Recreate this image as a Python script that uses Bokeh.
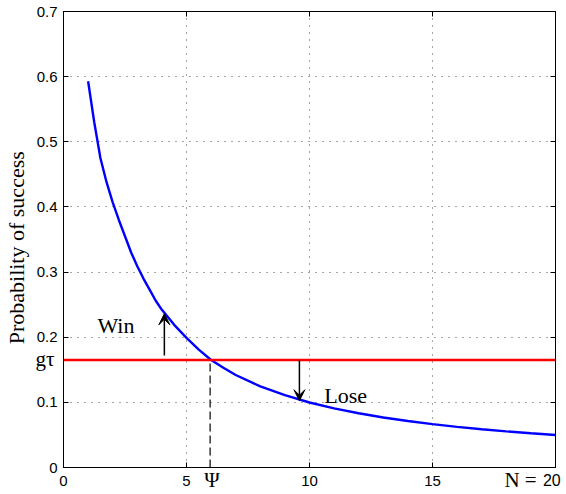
from bokeh.plotting import figure
from bokeh.models import (Range1d, LinearAxis, FixedTicker, Label, Arrow,
                          VeeHead, Span)
from bokeh.embed import file_html
from bokeh.resources import INLINE

# ---- data ----
N = [1, 1.25, 1.5, 1.75, 2, 2.25, 2.5, 2.75, 3, 3.25, 3.5, 3.75, 4, 4.5, 5,
     5.5, 6, 6.5, 7, 8, 9, 10, 11, 12, 13, 14, 15, 16, 17, 18, 19, 20]
P = [0.593, 0.530, 0.475, 0.438, 0.407, 0.380, 0.355, 0.330, 0.309, 0.290,
     0.273, 0.256, 0.242, 0.219, 0.199, 0.181, 0.165, 0.153, 0.142, 0.1245,
     0.111, 0.0998, 0.0907, 0.0832, 0.0768, 0.0713, 0.0666, 0.0624, 0.0588,
     0.0555, 0.0526, 0.0499]

g_tau = 0.165          # threshold
psi = 5.96             # crossing point
win_x, win_y0, win_y1 = 4.1, 0.172, 0.236
lose_x, lose_y0, lose_y1 = 9.59, 0.165, 0.1025

x_min, x_max = 0, 20
y_min, y_max = 0, 0.7
x_ticks = [0, 5, 10, 15, 20]
x_label_pos = [0, 5, 10, 15, 19.85]
x_tick_labels = ["0", "5", "10", "15", "20"]
x_serif_pos = [psi + 0.08, 18.58]
x_serif_labels = ["\u03a8", "N ="]
y_ticks = [0, 0.1, 0.2, 0.3, 0.4, 0.5, 0.6, 0.7]
y_tick_labels = ["0", "0.1", "0.2", "0.3", "0.4", "0.5", "0.6", "0.7"]
y_serif_pos = [g_tau + 0.001]
y_serif_labels = ["g\u03c4"]
y_title = "Probability of success"

SANS = "Liberation Sans"
SERIF = "Liberation Serif"

W, H = 566, 494
BL, BR, BT, BB = 61, 11, 11, 27

p = figure(width=W, height=H, output_backend="svg", toolbar_location=None,
           x_range=Range1d(x_min, x_max), y_range=Range1d(y_min, y_max),
           x_axis_location=None, y_axis_location=None,
           min_border_left=BL, min_border_right=BR, min_border_top=BT,
           min_border_bottom=BB)
p.outline_line_color = "black"
p.outline_line_width = 1
p.background_fill_color = "white"
p.border_fill_color = "white"


def tick_axis(ticks):
    """axis that draws only inward tick marks"""
    ax = LinearAxis(ticker=FixedTicker(ticks=ticks))
    ax.major_tick_in = 5
    ax.major_tick_out = 0
    ax.minor_tick_in = 0
    ax.minor_tick_out = 0
    ax.axis_line_color = "black"
    ax.major_tick_line_color = "black"
    ax.major_label_text_font_size = "1px"
    ax.major_label_text_color = None
    ax.major_label_standoff = 0
    return ax


def label_axis(pos, labels, font, size, standoff):
    """axis that draws only labels"""
    ax = LinearAxis(ticker=FixedTicker(ticks=pos),
                    major_label_overrides={t: l for t, l in zip(pos, labels)})
    ax.major_tick_in = 0
    ax.major_tick_out = 0
    ax.minor_tick_in = 0
    ax.minor_tick_out = 0
    ax.axis_line_color = None
    ax.major_tick_line_color = None
    ax.minor_tick_line_color = None
    ax.major_label_text_font = font
    ax.major_label_text_font_size = size
    ax.major_label_text_color = "black"
    ax.major_label_standoff = standoff
    return ax


# bottom: tick marks, sans labels, serif labels (pulled back up)
p.add_layout(tick_axis(x_ticks), "below")
xb = label_axis(x_label_pos[:4], x_tick_labels[:4], SANS, "15px", 8)
p.add_layout(xb, "below")
p.add_layout(label_axis(x_serif_pos, x_serif_labels, SERIF, "21px", -21), "below")
p.add_layout(label_axis(x_label_pos[4:], x_tick_labels[4:], SANS, "16px", -21), "below")

# left: tick marks, sans labels + title, serif label (pulled back in)
p.add_layout(tick_axis(y_ticks), "left")
yl = label_axis(y_ticks, y_tick_labels, SANS, "15px", 6)
yl.axis_label = y_title + "\u00a0\u00a0\u00a0"
yl.axis_label_text_font = SERIF
yl.axis_label_text_font_size = "22px"
yl.axis_label_text_font_style = "normal"
yl.axis_label_text_color = "black"
yl.axis_label_standoff = 5
p.add_layout(yl, "left")
p.add_layout(label_axis(y_serif_pos, y_serif_labels, SERIF, "21px", -54), "left")

# top/right: tick marks only
p.add_layout(tick_axis(x_ticks), "above")
p.add_layout(tick_axis(y_ticks), "right")

p.xgrid.ticker = FixedTicker(ticks=x_ticks)
p.ygrid.ticker = FixedTicker(ticks=y_ticks)
for g in (p.xgrid, p.ygrid):
    g.grid_line_color = "black"
    g.grid_line_alpha = 0.7
    g.grid_line_dash = "1 6"
    g.grid_line_width = 1

# curve and threshold
p.line(N, P, line_color="#0000ff", line_width=2.4)
p.add_layout(Span(location=g_tau, dimension="width", line_color="#ff0000",
                  line_width=2.6))
p.segment(x0=[psi], y0=[y_min], x1=[psi], y1=[g_tau], line_color="black",
          line_width=1.2, line_dash="8 4")

# arrows
for x, y0, y1 in ((win_x, win_y0, win_y1), (lose_x, lose_y0, lose_y1)):
    p.add_layout(Arrow(x_start=x, y_start=y0, x_end=x, y_end=y1,
                       line_color="black", line_width=1.5,
                       end=VeeHead(size=11, fill_color="black",
                                   line_color="black", line_width=1)))

# in-plot texts
for x, y, t in ((1.38, 0.2186, "Win"), (10.6, 0.111, "Lose")):
    p.add_layout(Label(x=x, y=y, text=t, text_font=SERIF, text_color="black",
                       text_font_size="22px", text_align="left",
                       text_baseline="alphabetic"))

open("out.html", "w").write(file_html(p, INLINE))
